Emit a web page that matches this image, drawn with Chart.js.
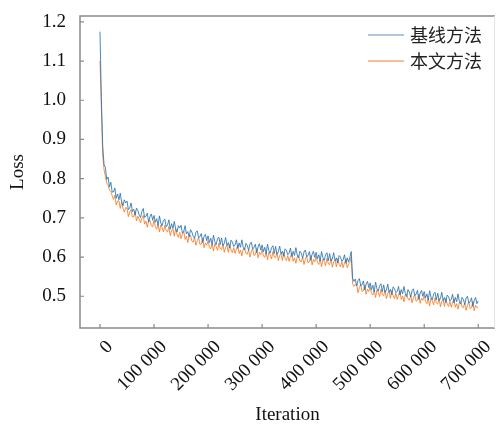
<!DOCTYPE html>
<html><head><meta charset="utf-8">
<script src="https://cdn.jsdelivr.net/npm/chart.js@4/dist/chart.umd.min.js"></script>
<style>html,body{margin:0;padding:0;background:#fff}#w{width:496px;height:428px}</style>
</head><body><div id="w"><canvas id="c" width="496" height="428"></canvas></div>
<script>
const seriesNames = ["基线方法", "本文方法"];
const iterStep = 2500;
const baseline = [
1.175,1.005,0.884,0.836,0.829,0.798,0.804,0.779,0.791,0.766,
0.766,0.776,0.750,0.761,0.746,0.763,0.741,0.731,0.746,0.738,
0.743,0.721,0.725,0.738,0.716,0.722,0.707,0.725,0.719,0.707,
0.701,0.716,0.724,0.701,0.704,0.712,0.689,0.703,0.710,0.694,
0.706,0.689,0.698,0.681,0.705,0.687,0.680,0.694,0.697,0.677,
0.682,0.695,0.671,0.685,0.673,0.691,0.672,0.664,0.680,0.674,
0.681,0.661,0.665,0.680,0.659,0.665,0.651,0.670,0.664,0.653,
0.648,0.663,0.667,0.649,0.652,0.660,0.637,0.652,0.658,0.642,
0.654,0.637,0.648,0.631,0.656,0.639,0.632,0.647,0.651,0.632,
0.649,0.629,0.635,0.650,0.629,0.637,0.623,0.643,0.638,0.627,
0.631,0.644,0.622,0.636,0.625,0.644,0.625,0.618,0.635,0.630,
0.617,0.633,0.638,0.621,0.624,0.633,0.611,0.626,0.634,0.618,
0.631,0.614,0.625,0.608,0.633,0.616,0.610,0.624,0.629,0.609,
0.627,0.607,0.613,0.628,0.608,0.615,0.602,0.621,0.617,0.606,
0.610,0.623,0.601,0.615,0.604,0.624,0.605,0.598,0.615,0.610,
0.597,0.613,0.618,0.601,0.604,0.614,0.592,0.607,0.615,0.599,
0.612,0.596,0.606,0.590,0.614,0.598,0.592,0.606,0.611,0.591,
0.609,0.590,0.595,0.611,0.590,0.598,0.585,0.604,0.600,0.589,
0.593,0.606,0.584,0.598,0.587,0.600,0.614,0.546,0.538,0.544,
0.526,0.540,0.545,0.527,0.530,0.539,0.516,0.531,0.538,0.522,
0.534,0.517,0.528,0.511,0.536,0.519,0.513,0.527,0.532,0.512,
0.529,0.510,0.515,0.531,0.510,0.518,0.504,0.524,0.519,0.509,
0.512,0.525,0.503,0.517,0.506,0.525,0.507,0.499,0.517,0.511,
0.498,0.514,0.519,0.502,0.505,0.515,0.492,0.508,0.515,0.500,
0.512,0.496,0.506,0.490,0.514,0.498,0.491,0.506,0.510,0.491,
0.508,0.489,0.494,0.510,0.489,0.497,0.484,0.503,0.499,0.488,
0.492,0.505,0.483,0.497,0.486,0.506,0.487,0.480,0.497,0.492,
0.479,0.495,0.500,0.483,0.486,0.496,0.474,0.489,0.497,0.481,
0.488];
const ours = [
1.100,0.985,0.860,0.823,0.806,0.789,0.784,0.771,0.768,0.757,
0.747,0.758,0.733,0.743,0.744,0.724,0.741,0.724,0.715,0.726,
0.725,0.703,0.715,0.721,0.702,0.703,0.717,0.692,0.704,0.697,
0.687,0.699,0.706,0.684,0.692,0.676,0.693,0.694,0.680,0.677,
0.694,0.677,0.671,0.684,0.664,0.682,0.675,0.664,0.681,0.667,
0.664,0.678,0.655,0.668,0.672,0.653,0.673,0.658,0.650,0.663,
0.647,0.659,0.666,0.645,0.653,0.637,0.654,0.656,0.641,0.638,
0.650,0.630,0.642,0.650,0.632,0.633,0.648,0.624,0.636,0.630,
0.642,0.625,0.621,0.634,0.615,0.634,0.627,0.617,0.635,0.622,
0.619,0.633,0.612,0.625,0.629,0.612,0.632,0.618,0.611,0.624,
0.609,0.621,0.630,0.609,0.618,0.603,0.620,0.623,0.609,0.607,
0.619,0.600,0.613,0.622,0.604,0.606,0.622,0.598,0.612,0.606,
0.620,0.603,0.599,0.612,0.593,0.612,0.606,0.595,0.614,0.600,
0.598,0.612,0.591,0.604,0.609,0.591,0.612,0.597,0.591,0.604,
0.589,0.601,0.610,0.589,0.598,0.584,0.601,0.604,0.590,0.588,
0.600,0.581,0.594,0.603,0.585,0.588,0.604,0.580,0.594,0.588,
0.602,0.586,0.581,0.595,0.575,0.595,0.589,0.578,0.597,0.583,
0.581,0.596,0.574,0.588,0.592,0.575,0.596,0.581,0.575,0.588,
0.573,0.585,0.594,0.573,0.582,0.586,0.600,0.532,0.525,0.530,
0.530,0.509,0.522,0.530,0.512,0.514,0.529,0.505,0.518,0.512,
0.524,0.507,0.503,0.516,0.497,0.516,0.510,0.499,0.518,0.504,
0.501,0.516,0.494,0.508,0.512,0.495,0.515,0.501,0.494,0.508,
0.492,0.504,0.513,0.492,0.501,0.486,0.504,0.506,0.493,0.490,
0.502,0.483,0.496,0.505,0.487,0.490,0.505,0.482,0.495,0.490,
0.502,0.486,0.481,0.495,0.475,0.495,0.488,0.478,0.496,0.483,
0.480,0.495,0.473,0.487,0.491,0.474,0.495,0.480,0.474,0.487,
0.472,0.484,0.493,0.472,0.481,0.467,0.484,0.487,0.473,0.471,
0.483,0.464,0.477,0.486,0.468,0.471,0.487,0.463,0.477,0.471,
0.473];
const xTicks = [0,100000,200000,300000,400000,500000,600000,700000];
const yTicks = [0.5,0.6,0.7,0.8,0.9,1.0,1.1,1.2];
const iterations = baseline.map((_, i) => i * iterStep);

const serif = "'Liberation Serif','DejaVu Serif',serif";
const cjk = "'Noto Sans CJK SC','Noto Sans CJK JP',sans-serif";
const fmt = v => String(v).replace(/\B(?=(\d{3})+(?!\d))/g, " ");

const frame = {
  id: 'frame',
  afterDatasetsDraw(chart) {
    const {ctx, chartArea: a, scales: {x, y}} = chart;
    ctx.save();
    ctx.strokeStyle = '#8a8a8a';
    ctx.lineWidth = 1.5;
    ctx.beginPath();
    ctx.moveTo(a.right, a.top); ctx.lineTo(a.left, a.top); ctx.lineTo(a.left, a.bottom); ctx.lineTo(a.right, a.bottom);
    ctx.stroke();
    ctx.strokeStyle = '#e4e4e4'; ctx.lineWidth = 1;
    ctx.beginPath(); ctx.moveTo(a.right - 0.5, a.top); ctx.lineTo(a.right - 0.5, a.bottom); ctx.stroke();
    ctx.strokeStyle = '#8a8a8a'; ctx.lineWidth = 1.2;
    ctx.beginPath();
    xTicks.forEach(t => { const px = x.getPixelForValue(t); ctx.moveTo(px, a.bottom); ctx.lineTo(px, a.bottom - 4); });
    yTicks.forEach(t => { const py = y.getPixelForValue(t); ctx.moveTo(a.left, py); ctx.lineTo(a.left + 4, py); });
    ctx.stroke();
    // legend
    const ds = chart.data.datasets;
    ctx.font = "18px " + cjk;
    ctx.textBaseline = 'middle';
    ctx.textAlign = 'left';
    const legCols = ['#93b3d3', '#f6a677'];
    ds.forEach((d, i) => {
      const ly = 35 + i * 26;
      ctx.strokeStyle = legCols[i]; ctx.lineWidth = 1.5;
      ctx.beginPath(); ctx.moveTo(368, ly); ctx.lineTo(404, ly); ctx.stroke();
      ctx.fillStyle = '#222';
      ctx.fillText(d.label, 410, ly);
    });
    ctx.restore();
  }
};

new Chart(document.getElementById('c'), {
  type: 'line',
  data: {
    datasets: [
      { label: seriesNames[0], data: iterations.map((x, i) => ({x, y: baseline[i]})), borderColor: 'rgba(40,116,180,0.85)', borderWidth: 1, pointRadius: 0, tension: 0 },
      { label: seriesNames[1], data: iterations.map((x, i) => ({x, y: ours[i]})), borderColor: 'rgba(245,125,40,0.85)', borderWidth: 1, pointRadius: 0, tension: 0 }
    ]
  },
  options: {
    responsive: false, animation: false,
    layout: { padding: { top: 16, right: 1, left: 0, bottom: 0 } },
    plugins: { legend: { display: false }, tooltip: { enabled: false } },
    scales: {
      x: {
        type: 'linear', min: -37000, max: 731000,
        afterBuildTicks: s => { s.ticks = xTicks.map(v => ({value: v})); },
        afterFit: s => { s.height = 100; s.paddingLeft = 0; s.paddingRight = 0; },
        grid: { display: false, drawTicks: false },
        border: { display: false },
        ticks: { font: { family: serif, size: 19 }, color: '#111', maxRotation: 45, minRotation: 45, padding: 8, labelOffset: 10, callback: v => fmt(v) },
        title: { display: true, text: 'Iteration', font: { family: serif, size: 19 }, color: '#111', padding: { top: 0, bottom: 2 } }
      },
      y: {
        min: 0.419, max: 1.215,
        afterBuildTicks: s => { s.ticks = yTicks.map(v => ({value: v})); },
        afterFit: s => { s.width = 80; s.paddingTop = 0; s.paddingBottom = 0; },
        grid: { display: false, drawTicks: false },
        border: { display: false },
        ticks: { font: { family: serif, size: 19 }, color: '#111', padding: 14, callback: v => v.toFixed(1) },
        title: { display: true, text: 'Loss', font: { family: serif, size: 19 }, color: '#111', padding: { top: 7, bottom: 0 } }
      }
    }
  },
  plugins: [frame]
});
</script></body></html>
